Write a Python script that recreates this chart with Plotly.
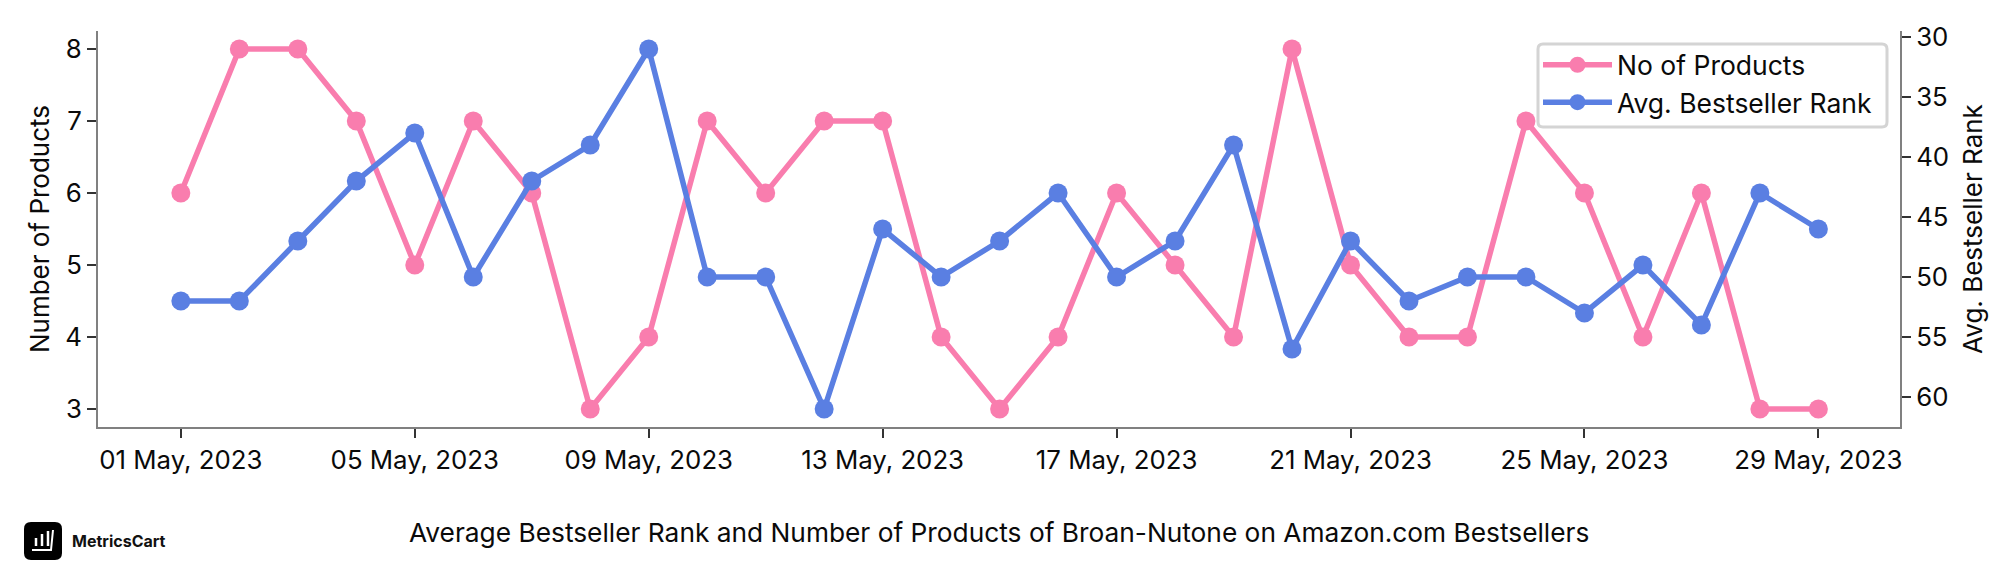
import plotly.graph_objects as go

dates = ["2023-05-%02d" % d for d in range(1, 30)]
products = [6, 8, 8, 7, 5, 7, 6, 3, 4, 7, 6, 7, 7, 4, 3, 4, 6, 5, 4, 8, 5, 4, 4, 7, 6, 4, 6, 3, 3]
rank = [52, 52, 47, 42, 38, 50, 42, 39, 31, 50, 50, 61, 46, 50, 47, 43, 50, 47, 39, 56, 47, 52, 50, 50, 53, 49, 54, 43, 46]
x_ticks = ["2023-05-01", "2023-05-05", "2023-05-09", "2023-05-13", "2023-05-17", "2023-05-21", "2023-05-25", "2023-05-29"]
x_labels = ["01 May, 2023", "05 May, 2023", "09 May, 2023", "13 May, 2023", "17 May, 2023", "21 May, 2023", "25 May, 2023", "29 May, 2023"]
y_ticks = [3, 4, 5, 6, 7, 8]
rank_ticks = [30, 35, 40, 45, 50, 55, 60]
title_text = "Average Bestseller Rank and Number of Products of Broan-Nutone on Amazon.com Bestsellers"

# the page body adds an 8 px margin: the figure is 16 px smaller, and its origin sits at (8, 8)
OFF = 8
W, H = 2016 - 2 * OFF, 576 - 2 * OFF
L, R, T, B = 98, 1900, 31, 427   # plot frame in screenshot pixels
FONT = "Inter"
PINK, BLUE, AXIS, TICK = "#F97DAE", "#5A7FE2", "#808080", "#333333"

def px(x): return (x - L) / (R - L)
def py(y): return (B - y) / (B - T)

def rrect(x0, y0, x1, y1, r):
    return (f"M{px(x0+r)},{py(y0)} L{px(x1-r)},{py(y0)} Q{px(x1)},{py(y0)} {px(x1)},{py(y0+r)} "
            f"L{px(x1)},{py(y1-r)} Q{px(x1)},{py(y1)} {px(x1-r)},{py(y1)} L{px(x0+r)},{py(y1)} "
            f"Q{px(x0)},{py(y1)} {px(x0)},{py(y1-r)} L{px(x0)},{py(y0+r)} Q{px(x0)},{py(y0)} {px(x0+r)},{py(y0)} Z")

fig = go.Figure()
fig.add_trace(go.Scatter(x=dates, y=products, name="No of Products", mode="lines+markers",
                         line=dict(color=PINK, width=5.5), marker=dict(color=PINK, size=19), yaxis="y"))
fig.add_trace(go.Scatter(x=dates, y=rank, name="Avg. Bestseller Rank", mode="lines+markers",
                         line=dict(color=BLUE, width=5.5), marker=dict(color=BLUE, size=19), yaxis="y2"))

shapes = [
    dict(type="path", xref="paper", yref="paper", path=rrect(24, 522, 62, 560, 7), fillcolor="#000000", line_width=0, layer="above"),
    dict(type="path", xref="paper", yref="paper", path=rrect(1538, 44, 1887, 127, 5), fillcolor="rgba(255,255,255,0.8)",
         line=dict(color="#D4D4D4", width=3), layer="above"),
]
for x0, y0 in [(36, 538), (42, 534), (48, 531)]:
    shapes.append(dict(type="line", xref="paper", yref="paper", x0=px(x0), x1=px(x0), y0=py(y0), y1=py(546),
                       line=dict(color="white", width=2.5), layer="above"))
shapes.append(dict(type="path", xref="paper", yref="paper",
                   path=f"M{px(32)},{py(550)} L{px(51)},{py(550)} L{px(53)},{py(530)}",
                   line=dict(color="white", width=2), layer="above"))

axis_style = dict(showgrid=False, zeroline=False, showline=True, linecolor=AXIS, linewidth=2,
                  ticks="outside", ticklen=9, tickwidth=2, tickcolor=TICK)

fig.update_layout(
    width=W, height=H, autosize=False,
    margin=dict(l=L - OFF, r=W + OFF - R, t=T - OFF, b=H + OFF - B, pad=0),
    paper_bgcolor="white", plot_bgcolor="white",
    font=dict(family=FONT, size=26, color="#0A0A0A"),
    xaxis=dict(type="date", range=["2023-04-29 14:00", "2023-05-30 09:30"], tickmode="array",
               tickvals=x_ticks, ticktext=x_labels, tickfont=dict(size=25.8), tickangle=0, **axis_style),
    yaxis=dict(range=[2.75, 8.25], tickmode="array", tickvals=y_ticks, tickfont=dict(size=25.8),
               title=dict(text="Number of Products", font=dict(size=26), standoff=8), **axis_style),
    yaxis2=dict(range=[62.5, 29.5], overlaying="y", side="right", tickmode="array", tickvals=rank_ticks,
                tickfont=dict(size=25.8), title=dict(text="Avg. Bestseller Rank", font=dict(size=26), standoff=16),
                **axis_style),
    legend=dict(x=px(1538), xanchor="left", y=py(41), yanchor="top",
                bgcolor="rgba(255,255,255,0)", borderwidth=0,
                font=dict(size=26.5), itemwidth=69, tracegroupgap=0),
    shapes=shapes,
    annotations=[
        dict(text=title_text, xref="paper", yref="paper", x=px(999), y=py(532), xanchor="center", yanchor="middle",
             showarrow=False, font=dict(size=26.3)),
        dict(text="<b>MetricsCart</b>", xref="paper", yref="paper", x=px(70), y=py(541), xanchor="left", yanchor="middle",
             showarrow=False, font=dict(size=16, color="#111111")),
    ],
)
fig.write_html("out.html")
